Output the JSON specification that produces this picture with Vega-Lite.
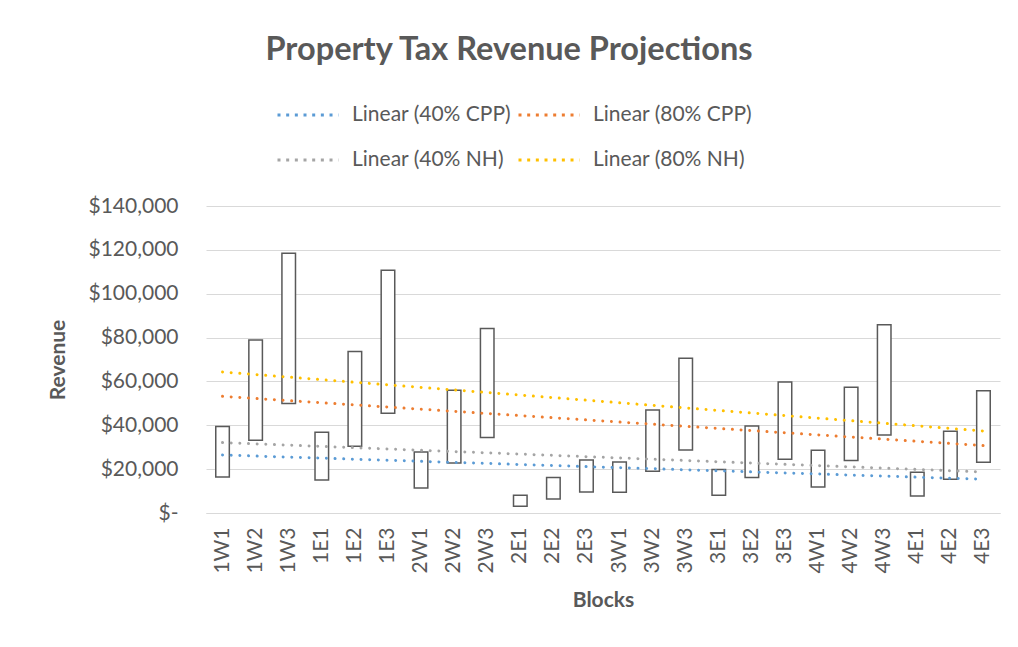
{
  "$schema": "https://vega.github.io/schema/vega-lite/v6.json",
  "autosize": {"type": "none"},
  "width": 794,
  "height": 307,
  "padding": {"left": 206, "top": 206, "right": 18, "bottom": 134},
  "background": "white",
  "config": {
    "font": "Lato",
    "view": {"stroke": null}
  },
  "title": {
    "text": "Property Tax Revenue Projections",
    "fontSize": 32.5,
    "fontWeight": "bold",
    "color": "#595959",
    "anchor": "middle",
    "frame": "group",
    "dx": -94,
    "offset": 17
  },
  "datasets": {
    "bars": [
      {"block": "1W1", "low": 16400, "high": 39400},
      {"block": "1W2", "low": 33150, "high": 78900},
      {"block": "1W3", "low": 49900, "high": 118400},
      {"block": "1E1", "low": 15050, "high": 36800},
      {"block": "1E2", "low": 30400, "high": 73700},
      {"block": "1E3", "low": 45450, "high": 110700},
      {"block": "2W1", "low": 11400, "high": 27800},
      {"block": "2W2", "low": 22800, "high": 55950},
      {"block": "2W3", "low": 34400, "high": 84100},
      {"block": "2E1", "low": 3050, "high": 8070},
      {"block": "2E2", "low": 6400, "high": 16140},
      {"block": "2E3", "low": 9600, "high": 24170},
      {"block": "3W1", "low": 9440, "high": 23250},
      {"block": "3W2", "low": 19000, "high": 46970},
      {"block": "3W3", "low": 28730, "high": 70540},
      {"block": "3E1", "low": 8070, "high": 19790},
      {"block": "3E2", "low": 16140, "high": 39670},
      {"block": "3E3", "low": 24490, "high": 59740},
      {"block": "4W1", "low": 11860, "high": 28590},
      {"block": "4W2", "low": 23890, "high": 57320},
      {"block": "4W3", "low": 35570, "high": 85900},
      {"block": "4E1", "low": 7750, "high": 18560},
      {"block": "4E2", "low": 15370, "high": 37250},
      {"block": "4E3", "low": 23100, "high": 55800}
    ],
    "trends": [
      {"series": "Linear (40% CPP)", "block": "1W1", "value": 26450},
      {"series": "Linear (40% CPP)", "block": "4E3", "value": 15370},
      {"series": "Linear (80% CPP)", "block": "1W1", "value": 53200},
      {"series": "Linear (80% CPP)", "block": "4E3", "value": 30730},
      {"series": "Linear (40% NH)", "block": "1W1", "value": 32100},
      {"series": "Linear (40% NH)", "block": "4E3", "value": 18700},
      {"series": "Linear (80% NH)", "block": "1W1", "value": 64300},
      {"series": "Linear (80% NH)", "block": "4E3", "value": 37400}
    ]
  },
  "layer": [
    {
      "data": {"name": "bars"},
      "mark": {"type": "bar", "fill": "white", "stroke": "#595959", "strokeWidth": 1.5, "width": {"band": 0.41}},
      "encoding": {
        "x": {
          "field": "block",
          "type": "nominal",
          "scale": {
            "domain": ["1W1","1W2","1W3","1E1","1E2","1E3","2W1","2W2","2W3","2E1","2E2","2E3","3W1","3W2","3W3","3E1","3E2","3E3","4W1","4W2","4W3","4E1","4E2","4E3"],
            "paddingInner": 0,
            "paddingOuter": 0
          },
          "axis": {
            "title": "Blocks",
            "titleFontSize": 21,
            "titleFontWeight": "bold",
            "titleColor": "#595959",
            "titlePadding": 16,
            "labelAngle": -90,
            "labelFontSize": 21,
            "labelColor": "#595959",
            "labelPadding": 14,
            "ticks": false,
            "domainColor": "#D9D9D9",
            "domainWidth": 1,
            "grid": false
          }
        },
        "y": {
          "field": "low",
          "type": "quantitative",
          "scale": {"domain": [0, 140000], "nice": false},
          "axis": {
            "title": "Revenue",
            "titleFontSize": 21,
            "titleFontWeight": "bold",
            "titleColor": "#595959",
            "titlePadding": 19,
            "values": [0, 20000, 40000, 60000, 80000, 100000, 120000, 140000],
            "labelExpr": "datum.value === 0 ? '$-\u00a0\u00a0\u00a0' : format(datum.value, '$,')",
            "labelFontSize": 21,
            "labelColor": "#595959",
            "labelPadding": 28,
            "ticks": false,
            "domain": false,
            "grid": true,
            "gridColor": "#D9D9D9",
            "gridWidth": 1
          }
        },
        "y2": {"field": "high"}
      }
    },
    {
      "data": {"name": "trends"},
      "mark": {"type": "line", "strokeWidth": 3, "strokeCap": "round", "strokeDash": [0.01, 8.65]},
      "encoding": {
        "x": {"field": "block", "type": "nominal"},
        "y": {"field": "value", "type": "quantitative"},
        "color": {
          "field": "series",
          "type": "nominal",
          "scale": {
            "domain": ["Linear (40% CPP)", "Linear (80% CPP)", "Linear (40% NH)", "Linear (80% NH)"],
            "range": ["#5B9BD5", "#ED7D31", "#A5A5A5", "#FFC000"]
          },
          "legend": {
            "title": null,
            "orient": "none",
            "legendX": 70,
            "legendY": -123,
            "columns": 2,
            "direction": "horizontal",
            "symbolType": "stroke",
            "symbolSize": 3721,
            "symbolStrokeWidth": 3,
            "symbolDash": [3, 5.67],
            "labelFontSize": 21,
            "labelColor": "#595959",
            "labelOffset": 12,
            "columnPadding": 0,
            "rowPadding": 3,
            "padding": 0
          }
        }
      }
    }
  ]
}
